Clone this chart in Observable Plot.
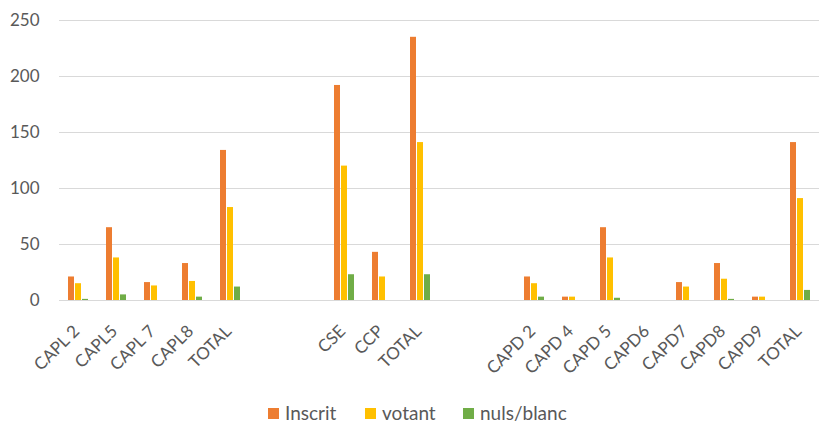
<!DOCTYPE html>
<html><head><meta charset="utf-8">
<script src="https://cdn.jsdelivr.net/npm/d3@7"></script>
<script src="https://cdn.jsdelivr.net/npm/@observablehq/plot@0.6"></script>
<style>
html,body{margin:0;padding:0;background:#fff;overflow:hidden;}
#chart{position:relative;width:819px;height:426px;}
.item{position:absolute;top:403px;display:flex;align-items:center;font-family:Lato,sans-serif;font-size:19px;color:#595959;line-height:20px;}
.sw{width:11px;height:11px;margin-right:6px;}
</style></head><body><div id="chart"></div>
<script>
const categories = ["CAPL 2","CAPL5","CAPL 7","CAPL8","TOTAL","","","CSE","CCP","TOTAL","","","CAPD 2","CAPD 4","CAPD 5","CAPD6","CAPD7","CAPD8","CAPD9","TOTAL"];
const inscrit = [21,65,16,33,134,0,0,192,43,235,0,0,21,3,65,0,16,33,3,141];
const votant  = [15,38,13,17,83,0,0,120,21,141,0,0,15,3,38,0,12,19,3,91];
const nuls    = [1,5,0,3,12,0,0,23,0,23,0,0,3,0,2,0,0,1,0,9];
const series = ["Inscrit","votant","nuls/blanc"];
const colors = ["#ED7D31","#FFC000","#70AD47"];
const yTicks = [0,50,100,150,200,250];

const rows = [];
categories.forEach((c,i)=>{
  [inscrit,votant,nuls].forEach((arr,j)=>rows.push({key:i, series:series[j], value:arr[i]}));
});

const plot = Plot.plot({
  width: 819, height: 400,
  marginLeft: 54, marginRight: 0, marginTop: 20, marginBottom: 100,
  style: {fontFamily: "Lato, sans-serif", fontSize: "17px", color: "#595959", overflow: "visible", background: "#fff"},
  fx: {domain: d3.range(categories.length), range: [54.3, 823], padding: 0, label: null},
  x: {domain: series, axis: null, paddingInner: 0.125, paddingOuter: 0.95},
  y: {domain: [0,250], range: [300, 20], label: null},
  color: {domain: series, range: colors},
  marks: [
    Plot.gridY(yTicks, {stroke: "#d9d9d9", strokeOpacity: 1, strokeWidth: 1.2}),
    Plot.axisY(yTicks, {tickSize: 0, tickPadding: 20, fontSize: 17, label: null}),
    Plot.axisFx({anchor: "bottom", tickFormat: i => categories[i], tickRotate: -45, tickSize: 0, tickPadding: 28, dx: -2, fontSize: 17, label: null}),
    Plot.barY(rows, {fx: "key", x: "series", y: "value", fill: "series"})
  ]
});
const chart = document.getElementById("chart");
chart.appendChild(plot);

const legendLeft = [268, 365, 463];
series.forEach((s,i)=>{
  const it = document.createElement("div"); it.className = "item"; it.style.left = legendLeft[i] + "px";
  const sw = document.createElement("div"); sw.className = "sw"; sw.style.background = colors[i];
  const t = document.createElement("span"); t.textContent = s;
  it.appendChild(sw); it.appendChild(t); chart.appendChild(it);
});
</script>
</body></html>
